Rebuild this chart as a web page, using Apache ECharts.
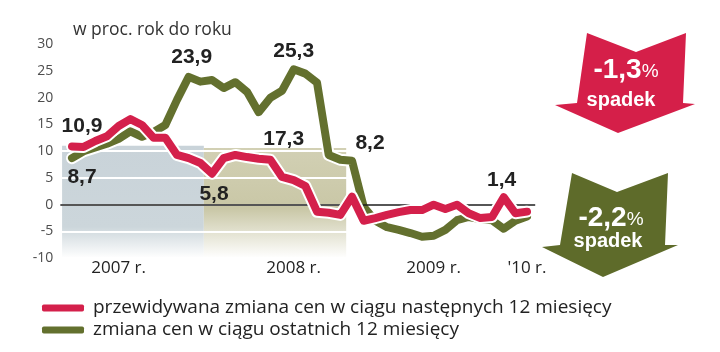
<!DOCTYPE html>
<html>
<head>
<meta charset="utf-8">
<script src="https://cdn.jsdelivr.net/npm/echarts@6.0.0/dist/echarts.min.js"></script>
<style>
html,body{margin:0;padding:0;background:#fff;}
#c{width:720px;height:352px;}
</style>
</head>
<body>
<div id="c"></div>
<script>
// ---- data ----
const months = ['2007-01','2007-02','2007-03','2007-04','2007-05','2007-06','2007-07','2007-08','2007-09','2007-10','2007-11','2007-12',
  '2008-01','2008-02','2008-03','2008-04','2008-05','2008-06','2008-07','2008-08','2008-09','2008-10','2008-11','2008-12',
  '2009-01','2009-02','2009-03','2009-04','2009-05','2009-06','2009-07','2009-08','2009-09','2009-10','2009-11','2009-12',
  '2010-01','2010-02','2010-03','2010-04'];
const expectedChange = [10.9,10.8,11.9,12.8,14.7,16.0,14.9,12.5,12.5,9.3,8.7,7.8,
  5.8,8.7,9.3,8.9,8.6,8.4,5.2,4.6,3.5,-1.3,-1.5,-1.9,
  1.5,-3.0,-2.5,-1.9,-1.4,-1.0,-1.0,0.0,-0.8,0.0,-1.6,-2.5,
  -2.3,1.4,-1.6,-1.3];
const pastChange = [8.7,10.0,10.7,11.4,12.3,13.7,12.7,13.6,14.9,19.6,23.9,23.0,
  23.3,21.8,22.9,21.1,17.3,20.0,21.3,25.3,24.5,22.8,9.3,8.4,
  8.2,-0.4,-3.0,-4.2,-4.7,-5.3,-6.0,-5.8,-4.7,-2.9,-2.3,-2.7,
  -2.9,-4.5,-3.0,-2.2];
const seriesNames = ['przewidywana zmiana cen w ciągu następnych 12 miesięcy', 'zmiana cen w ciągu ostatnich 12 miesięcy'];
const yTicks = [-10, -5, 0, 5, 10, 15, 20, 25, 30];
const xTickMonths = ['2007-05', '2008-08', '2009-08', '2010-04'];
const xTickLabels = ['2007 r.', '2008 r.', '2009 r.', "'10 r."];
const yearSpans = [['2007-01', '2007-12'], ['2008-01', '2008-12']];
const expectedLabelMonths = ['2007-01', '2008-01', '2010-02'];
const pastLabelMonths = ['2007-01', '2007-11', '2008-05', '2008-08', '2009-01'];
const arrowValues = [-1.3, -2.2];
const arrowWord = 'spadek';
const title = 'w proc. rok do roku';

// ---- styles ----
const RED = '#d4204b';
const GREEN = '#63702e';
const fmt = v => v.toFixed(1).replace('.', ',');
const idx = m => months.indexOf(m);

const labelOffsets = {
  r0: [10, -20], r12: [2, 21], r37: [-2, -17],
  g0: [10, 19], g10: [3, -20], g16: [25, 27], g19: [0, -18], g24: [18, -18]
};
const labelStyle = {fontFamily: 'Liberation Sans', fontWeight: 'bold', fontSize: 21, color: '#222'};

function buildData(values, labelMonths, key) {
  const li = labelMonths.map(idx);
  return values.map((v, i) => {
    if (li.indexOf(i) >= 0) {
      return {value: [i, v], label: Object.assign({show: true, position: 'inside', offset: labelOffsets[key + i], formatter: p => fmt(p.value[1])}, labelStyle)};
    }
    return {value: [i, v]};
  });
}
const plain = values => values.map((v, i) => [i, v]);

const chart = echarts.init(document.getElementById('c'), null, {renderer: 'canvas'});

const lineBase = {type: 'line', symbol: 'circle', symbolSize: 0, showSymbol: true, silent: true, animation: false};

const option = {
  animation: false,
  title: {text: title, left: 73, top: 21, padding: 0,
    textStyle: {fontFamily: 'Open Sans', fontSize: 17.5, fontWeight: 'normal', color: '#333'}},
  grid: {left: 60.33, right: 720 - 535.2, top: 44.2, bottom: 352 - 258.2, containLabel: false},
  xAxis: {
    type: 'value', min: -1, max: 39.7,
    axisLine: {show: false}, axisTick: {show: false}, splitLine: {show: false},
    axisLabel: {
      customValues: xTickMonths.map(idx),
      formatter: v => xTickLabels[xTickMonths.map(idx).indexOf(Math.round(v))] || '',
      fontFamily: 'Open Sans', fontSize: 17, color: '#222', margin: 1
    }
  },
  yAxis: {
    type: 'value', min: -10, max: 30, interval: 5, z: 2,
    axisLine: {show: false}, axisTick: {show: false},
    splitLine: {show: true, lineStyle: {color: '#ffffff', width: 2}},
    axisLabel: {fontFamily: 'Open Sans', fontSize: 14, color: '#4d4d4d', margin: 7,
      formatter: v => yTicks.indexOf(v) >= 0 ? String(v) : ''}
  },
  legend: {
    data: seriesNames, orient: 'vertical', left: 42, top: 298, padding: 0,
    itemWidth: 42, itemHeight: 7, itemGap: 2, icon: 'roundRect', selectedMode: false,
    textStyle: {fontFamily: 'Open Sans', fontSize: 19, color: '#222', lineHeight: 20, padding: [0, 0, 0, 4]}
  },
  series: [
    Object.assign({}, lineBase, {
      name: 'bg', data: plain(expectedChange), z: 1, symbol: 'none',
      lineStyle: {opacity: 0},
      markArea: {
        silent: true,
        data: [
          [{xAxis: idx(yearSpans[0][0]) - 0.85, yAxis: 11,
            itemStyle: {color: new echarts.graphic.LinearGradient(0, 0, 0, 1, [
              {offset: 0, color: '#c9d3d9'}, {offset: 0.72, color: '#ccd6db'}, {offset: 1, color: '#ffffff'}])}},
           {xAxis: idx(yearSpans[0][1]) + 0.3, yAxis: -10}],
          [{xAxis: idx(yearSpans[1][0]) - 0.7, yAxis: 10.6,
            itemStyle: {color: new echarts.graphic.LinearGradient(0, 0, 0, 1, [
              {offset: 0, color: '#d2d0b4'}, {offset: 0.55, color: '#c9c7a6'}, {offset: 1, color: '#ffffff'}])}},
           {xAxis: idx(yearSpans[1][1]) + 0.5, yAxis: -10}]
        ]
      }
    }),
    Object.assign({}, lineBase, {
      name: 'zero', data: plain(expectedChange), z: 2.5, symbol: 'none',
      lineStyle: {opacity: 0},
      markLine: {silent: true, symbol: 'none', label: {show: false},
        lineStyle: {color: '#1e1e1e', width: 1.6, type: 'solid'},
        data: [{yAxis: 0}]}
    }),
    Object.assign({}, lineBase, {
      name: 'haloG', data: plain(pastChange), z: 3, symbol: 'none',
      lineStyle: {color: '#ffffff', width: 12, join: 'round', cap: 'round'}
    }),
    Object.assign({}, lineBase, {
      name: seriesNames[1], data: buildData(pastChange, pastLabelMonths, 'g'), z: 4,
      itemStyle: {color: GREEN},
      lineStyle: {color: GREEN, width: 8, join: 'round', cap: 'round'}
    }),
    Object.assign({}, lineBase, {
      name: 'haloR', data: plain(expectedChange), z: 5, symbol: 'none',
      lineStyle: {color: '#ffffff', width: 12, join: 'round', cap: 'round'}
    }),
    Object.assign({}, lineBase, {
      name: seriesNames[0], data: buildData(expectedChange, expectedLabelMonths, 'r'), z: 6,
      itemStyle: {color: RED},
      lineStyle: {color: RED, width: 8, join: 'round', cap: 'round'}
    })
  ],
  graphic: [
    {type: 'polygon', silent: true,
      shape: {points: [[587, 33], [636, 52], [686, 33], [683, 103], [695, 104], [618, 133], [555, 105], [577, 103]]},
      style: {fill: '#d51f49'}},
    {type: 'text', silent: true, x: 626, y: 70,
      style: {text: '{n|' + fmt(arrowValues[0]) + '}{p|%}', align: 'center', verticalAlign: 'middle',
        rich: {n: {fontFamily: 'Liberation Sans', fontWeight: 'bold', fontSize: 28, fill: '#fff'},
               p: {fontFamily: 'Liberation Sans', fontSize: 19, fill: '#fff', padding: [4, 0, 0, 0]}}}},
    {type: 'text', silent: true, x: 621, y: 100,
      style: {text: arrowWord, align: 'center', verticalAlign: 'middle',
        fontFamily: 'Liberation Sans', fontWeight: 'bold', fontSize: 20, fill: '#fff'}},
    {type: 'polygon', silent: true,
      shape: {points: [[572, 173], [617, 192], [668, 173], [665, 245], [678, 245], [603, 277], [542, 247], [560, 245]]},
      style: {fill: '#5e6b2a'}},
    {type: 'text', silent: true, x: 611, y: 218,
      style: {text: '{n|' + fmt(arrowValues[1]) + '}{p|%}', align: 'center', verticalAlign: 'middle',
        rich: {n: {fontFamily: 'Liberation Sans', fontWeight: 'bold', fontSize: 28, fill: '#fff'},
               p: {fontFamily: 'Liberation Sans', fontSize: 19, fill: '#fff', padding: [4, 0, 0, 0]}}}},
    {type: 'text', silent: true, x: 608, y: 241,
      style: {text: arrowWord, align: 'center', verticalAlign: 'middle',
        fontFamily: 'Liberation Sans', fontWeight: 'bold', fontSize: 20, fill: '#fff'}}
  ]
};
chart.setOption(option);
</script>
</body>
</html>
